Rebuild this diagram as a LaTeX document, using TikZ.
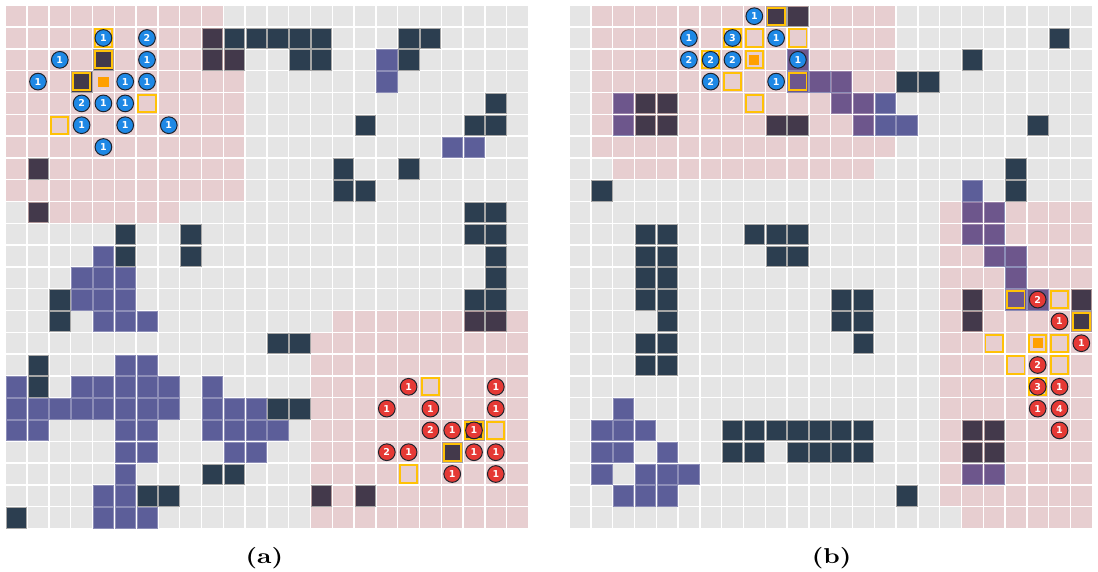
\documentclass[tikz,border=0pt]{standalone}
\usepackage{fontspec}
\usepackage{graphicx}
\newfontfamily\numfont{DejaVu Sans}
\newfontfamily\labfont{lmroman10-bold.otf}
\definecolor{bggray}{RGB}{229,229,229}
\definecolor{navy}{RGB}{44,62,80}
\definecolor{violetc}{RGB}{92,94,153}
\definecolor{fovred}{RGB}{255,25,40}
\definecolor{selyellow}{RGB}{255,193,7}
\definecolor{goalorange}{RGB}{255,160,0}
\definecolor{circblue}{RGB}{30,136,229}
\definecolor{circred}{RGB}{229,57,53}
\definecolor{circedge}{RGB}{30,35,45}
\tikzset{
  base/.style={fill=bggray},
  obst/.style={fill=navy, draw=gray!70, line width=0.6pt},
  agentcell/.style={fill=violetc, draw=violetc!70!white, line width=0.6pt},
  fov/.style={fill=fovred, fill opacity=0.11},
  selbox/.style={draw=selyellow, line width=1.9pt},
  goalbox/.style={fill=goalorange},
  numc/.style={circle, draw=circedge, line width=1pt, minimum size=16.7pt, inner sep=0pt,
    text=white, font=\numfont\bfseries\fontsize{9.5}{10}\selectfont},
  bluec/.style={numc, fill=circblue},
  redc/.style={numc, fill=circred},
  lab/.style={font=\labfont\fontsize{21.5}{24}\selectfont, inner sep=0pt}
}
\newcommand\gcell[4]{\path[#1] ({#2+#4*21.8+0.7},{5.3+#3*21.8+0.7}) rectangle ({#2+(#4+1)*21.8-0.7},{5.3+(#3+1)*21.8-0.7});}
\newcommand\fovrange[5]{\foreach \rr in {#2,...,#3} {\foreach \cc in {#4,...,#5} {\gcell{fov}{#1}{\rr}{\cc}}}}
\newcommand\selcell[3]{\draw[selbox] ({#1+(#3+0.5)*21.8-8.6},{5.3+(#2+0.5)*21.8-8.6}) rectangle ({#1+(#3+0.5)*21.8+8.6},{5.3+(#2+0.5)*21.8+8.6});}
\newcommand\goalcell[3]{\fill[goalbox] ({#1+(#3+0.5)*21.8-5.1},{5.3+(#2+0.5)*21.8-5.1}) rectangle ({#1+(#3+0.5)*21.8+5.1},{5.3+(#2+0.5)*21.8+5.1});}
\begin{document}
\begin{tikzpicture}[x=1pt,y=-1pt]
\useasboundingbox (0,0) rectangle (1098,571);
\def\oa{5.3}
\def\ob{569}
% base cells
\foreach \r in {0,...,23} {\foreach \c in {0,...,23} {\gcell{base}{\oa}{\r}{\c}\gcell{base}{\ob}{\r}{\c}}}
% ---------- panel (a) ----------
\foreach \r/\c in {1/9,1/10,1/11,1/12,1/13,1/14,1/18,1/19,2/4,2/9,2/10,2/13,2/14,2/18,3/3,4/22,5/16,5/21,5/22,7/1,7/15,7/18,8/15,8/16,9/1,9/21,9/22,10/5,10/8,10/21,10/22,11/5,11/8,11/22,12/22,13/2,13/21,13/22,14/2,14/21,14/22,15/12,15/13,16/1,17/1,18/12,18/13,19/21,20/20,21/9,21/10,22/6,22/7,22/14,22/16,23/0}
  {\gcell{obst}{\oa}{\r}{\c}}
\foreach \r/\c in {2/17,3/17,6/20,6/21,11/4,12/3,12/4,12/5,13/3,13/4,13/5,14/4,14/5,14/6,16/5,16/6,17/0,17/3,17/4,17/5,17/6,17/7,17/9,18/0,18/1,18/2,18/3,18/4,18/5,18/6,18/7,18/9,18/10,18/11,19/0,19/1,19/5,19/6,19/9,19/10,19/11,19/12,20/5,20/6,20/10,20/11,21/5,22/4,22/5,23/4,23/5,23/6}
  {\gcell{agentcell}{\oa}{\r}{\c}}
\fovrange{\oa}{0}{1}{0}{9}
\fovrange{\oa}{2}{8}{0}{10}
\fovrange{\oa}{9}{9}{1}{7}
\fovrange{\oa}{14}{14}{15}{23}
\fovrange{\oa}{15}{23}{14}{23}
\foreach \r/\c in {1/4,2/4,3/3,4/6,5/2,17/19,19/21,19/22,20/20,21/18} {\selcell{\oa}{\r}{\c}}
\goalcell{\oa}{3}{4}
\foreach \r/\c/\n in {1/4/1,1/6/2,2/2/1,2/6/1,3/1/1,3/5/1,3/6/1,4/3/2,4/4/1,4/5/1,5/3/1,5/5/1,5/7/1,6/4/1}
  {\node[bluec] (ab-\r-\c) at ({\oa+(\c+0.5)*21.8},{5.3+(\r+0.5)*21.8}) {\n};}
\foreach \r/\c/\n in {17/18/1,17/22/1,18/17/1,18/19/1,18/22/1,19/19/2,19/20/1,19/21/1,20/17/2,20/18/1,20/21/1,20/22/1,21/20/1,21/22/1}
  {\node[redc] (ar-\r-\c) at ({\oa+(\c+0.5)*21.8},{5.3+(\r+0.5)*21.8}) {\n};}
% ---------- panel (b) ----------
\foreach \r/\c in {0/9,0/10,1/22,2/18,3/15,3/16,4/3,4/4,5/3,5/4,5/9,5/10,5/21,7/20,8/1,8/20,10/3,10/4,10/8,10/9,10/10,11/3,11/4,11/9,11/10,12/3,12/4,13/3,13/4,13/12,13/13,13/18,13/23,14/4,14/12,14/13,14/18,14/23,15/3,15/4,15/13,16/3,16/4,19/7,19/8,19/9,19/10,19/11,19/12,19/13,19/18,19/19,20/7,20/8,20/10,20/11,20/12,20/13,20/18,20/19,22/15}
  {\gcell{obst}{\ob}{\r}{\c}}
\foreach \r/\c in {2/10,3/10,3/11,3/12,4/2,4/12,4/13,4/14,5/2,5/13,5/14,5/15,8/18,9/18,9/19,10/18,10/19,11/19,11/20,12/20,13/20,13/21,18/2,19/1,19/2,19/3,20/1,20/2,20/4,21/1,21/3,21/4,21/5,22/2,22/3,22/4,21/18,21/19}
  {\gcell{agentcell}{\ob}{\r}{\c}}
\fovrange{\ob}{0}{3}{1}{14}
\fovrange{\ob}{4}{5}{1}{13}
\fovrange{\ob}{6}{6}{1}{14}
\fovrange{\ob}{7}{7}{2}{13}
\fovrange{\ob}{9}{22}{17}{23}
\fovrange{\ob}{23}{23}{18}{23}
\foreach \r/\c in {0/9,1/7,1/8,1/10,2/6,2/8,3/7,3/10,4/8,13/20,13/22,14/23,15/19,15/21,15/22,16/20,16/22,17/21} {\selcell{\ob}{\r}{\c}}
\goalcell{\ob}{2}{8}
\goalcell{\ob}{15}{21}
\foreach \r/\c/\n in {0/8/1,1/5/1,1/7/3,1/9/1,2/5/2,2/6/2,2/7/2,2/10/1,3/6/2,3/9/1}
  {\node[bluec] (bb-\r-\c) at ({\ob+(\c+0.5)*21.8},{5.3+(\r+0.5)*21.8}) {\n};}
\foreach \r/\c/\n in {13/21/2,14/22/1,15/23/1,16/21/2,17/21/3,17/22/1,18/21/1,18/22/4,19/22/1}
  {\node[redc] (br-\r-\c) at ({\ob+(\c+0.5)*21.8},{5.3+(\r+0.5)*21.8}) {\n};}
% labels
\node[lab, anchor=base] (la) at (264.3,563) {\scalebox{1.2}[1]{(a)}};
\node[lab, anchor=base] (lb) at (831.7,563) {\scalebox{1.2}[1]{(b)}};
\end{tikzpicture}
\end{document}
